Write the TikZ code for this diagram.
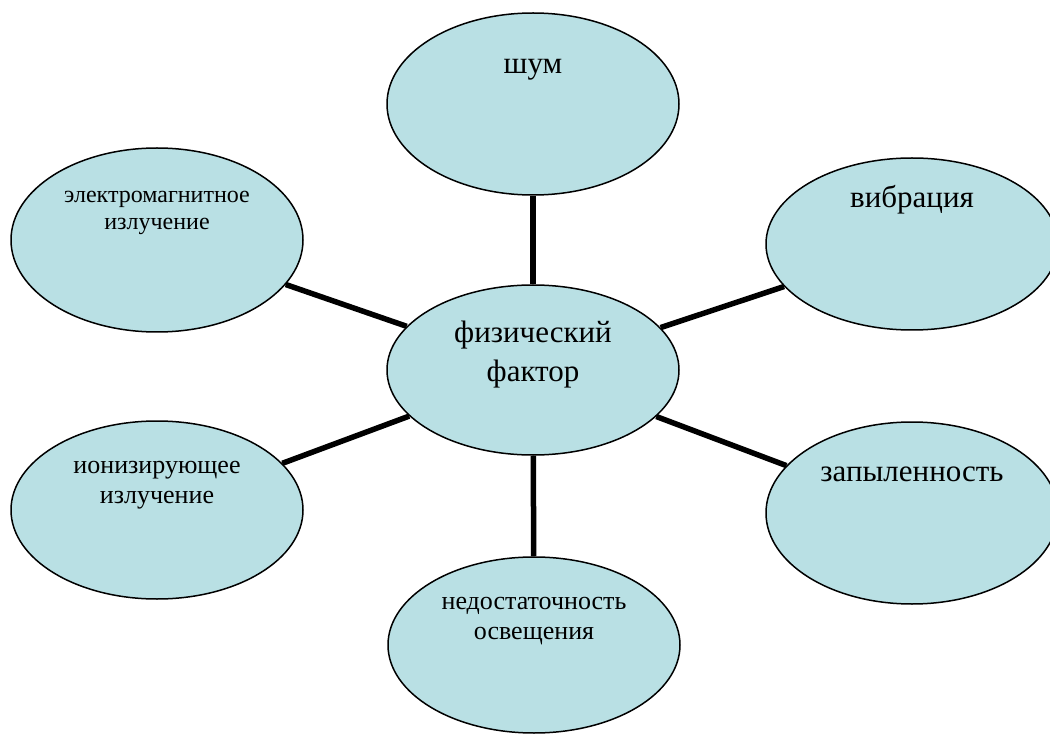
\documentclass[tikz,border=0pt]{standalone}
\usepackage{fontspec}
\setmainfont{Liberation Serif}
\usetikzlibrary{shapes.geometric}
\definecolor{bubblefill}{RGB}{185,224,228}

\begin{document}
\begin{tikzpicture}[x=1pt,y=-1pt,line join=round,
  bubble/.style={ellipse,draw=black,line width=1.5pt,fill=bubblefill,
    minimum width=292pt,minimum height=178pt,inner sep=0pt},
  bigtext/.style={font=\fontsize{31}{39}\selectfont,align=center,inner sep=0pt},
  smalltext/.style={font=\fontsize{26}{30}\selectfont,align=center,inner sep=0pt},
  spoke/.style={line width=5.5pt,line cap=butt}]
  \useasboundingbox (0,0) rectangle (1050,735);
  % эллипсы
  \node[bubble,minimum height=170pt] (phys) at (533,370) {};
  \node[bubble,minimum height=182pt] (noise) at (533,104) {};
  \node[bubble,minimum height=172pt] (vibr) at (912,244) {};
  \node[bubble,minimum height=184pt] (emag) at (157,240) {};
  \node[bubble] (ion) at (157,510) {};
  \node[bubble,minimum height=182pt] (dust) at (912,513) {};
  \node[bubble,minimum height=176pt] (light) at (534,645) {};
  % подписи
  \node[bigtext] (physlbl) at ([yshift=15pt]phys.center) {физический\\фактор};
  \node[bigtext] (noiselbl) at ([yshift=34pt]noise.center) {шум};
  \node[bigtext] (vibrlbl) at ([yshift=44pt]vibr.center) {вибрация};
  \node[bigtext] (dustlbl) at ([yshift=39pt]dust.center) {запыленность};
  \node[smalltext,font=\fontsize{24}{27}\selectfont] (emaglbl) at ([yshift=27pt]emag.center) {электромагнитное\\излучение};
  \node[smalltext] (ionlbl) at ([yshift=25pt]ion.center) {ионизирующее\\излучение};
  \node[smalltext] (lightlbl) at ([yshift=24pt]light.center) {недостаточность\\освещения};
  % связи
  \foreach \outer in {noise,vibr,dust,light,ion,emag}
    \draw[spoke] (phys) -- (\outer);
\end{tikzpicture}
\end{document}
